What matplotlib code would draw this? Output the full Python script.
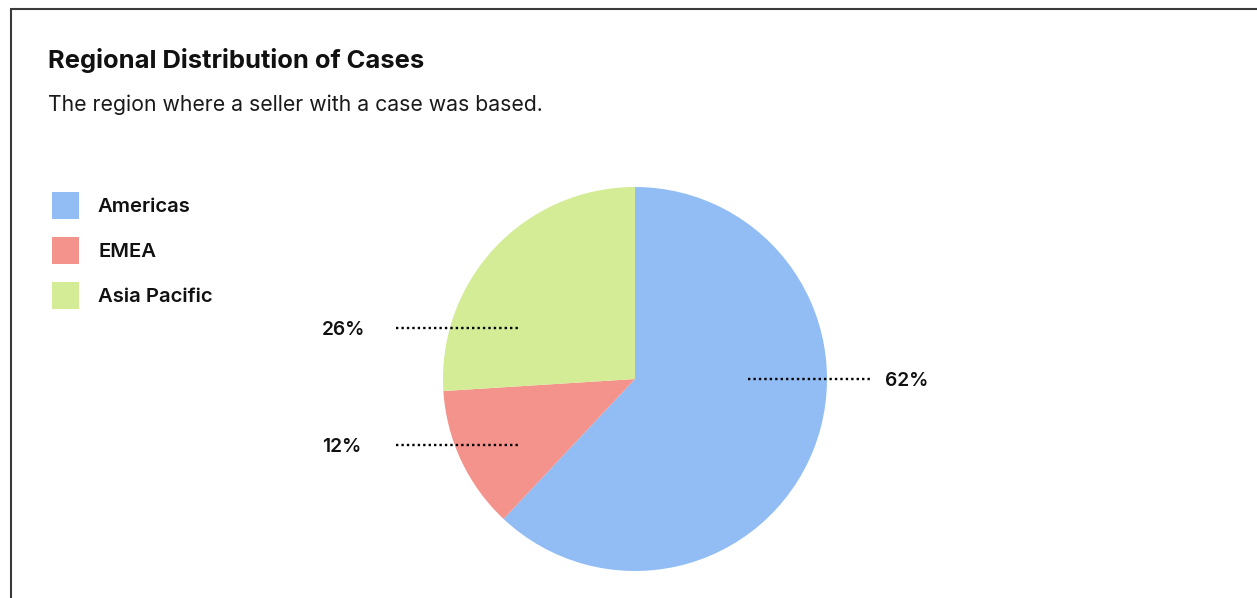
import matplotlib.pyplot as plt
from matplotlib.lines import Line2D
from matplotlib.patches import Rectangle

plt.rcParams["font.family"] = ["Inter", "DejaVu Sans"]

REGIONS = ["Americas", "EMEA", "Asia Pacific"]
SHARES = [62, 12, 26]
COLORS = ["#91bdf4", "#f4928c", "#d3ec95"]

# where each percentage label sits (pie radius = 1): side and height
LABEL_SIDE = [1, -1, -1]
LABEL_Y = [0.0, -0.344, 0.266]

W, H = 1257, 598
fig = plt.figure(figsize=(W / 100, H / 100), dpi=100)
fig.patch.set_facecolor("white")

# frame: top and left edges only
fig.add_artist(Line2D([10 / W, 1], [1 - 8.5 / H] * 2, color="#3a3a3a", lw=1.5,
                      transform=fig.transFigure, solid_capstyle="butt"))
fig.add_artist(Line2D([10.5 / W] * 2, [0, 1 - 8 / H], color="#3a3a3a", lw=1.5,
                      transform=fig.transFigure, solid_capstyle="butt"))

fig.text(48 / W, 1 - 58 / H, "Regional Distribution of Cases", fontsize=18.4,
         fontweight="bold", va="center_baseline", ha="left", color="#111111")
fig.text(48 / W, 1 - 103 / H, "The region where a seller with a case was based.",
         fontsize=15.3, va="center_baseline", ha="left", color="#1a1a1a")

# legend: coloured squares with labels
for i, (name, c) in enumerate(zip(REGIONS, COLORS)):
    yc = 205 + 45 * i
    fig.add_artist(Rectangle((52 / W, 1 - (yc + 13.5) / H), 27 / W, 27 / H,
                             facecolor=c, edgecolor="none",
                             transform=fig.transFigure))
    fig.text(98 / W, 1 - yc / H, name, fontsize=14.6, fontweight="semibold",
             va="center_baseline", ha="left", color="#111111")

# pie axes: centre (635, 379) px, radius 192 px
R = 192
lim = 1.7
side = 2 * lim * R
cx, cy = 635, H - 379
ax = fig.add_axes([(cx - side / 2) / W, (cy - side / 2) / H, side / W, side / H])
ax.pie(SHARES, colors=COLORS, startangle=90, counterclock=False, radius=1,
       wedgeprops=dict(linewidth=0))
ax.set_xlim(-lim, lim)
ax.set_ylim(-lim, lim)
ax.set_aspect("equal")
ax.axis("off")

for share, s, y in zip(SHARES, LABEL_SIDE, LABEL_Y):
    x0, x1 = (0.589, 1.229) if s > 0 else (-1.245, -0.609)
    ax.plot([x0, x1], [y, y], color="black", lw=1.7, linestyle=(0, (1, 1.3)),
            dash_capstyle="butt")
    tx = 1.302 if s > 0 else -1.630
    ax.text(tx, y, f"{share}%", ha="left", va="center_baseline", fontsize=13.8,
            fontweight="semibold", color="#111111")

fig.savefig("out.png", dpi=100, facecolor="white")
